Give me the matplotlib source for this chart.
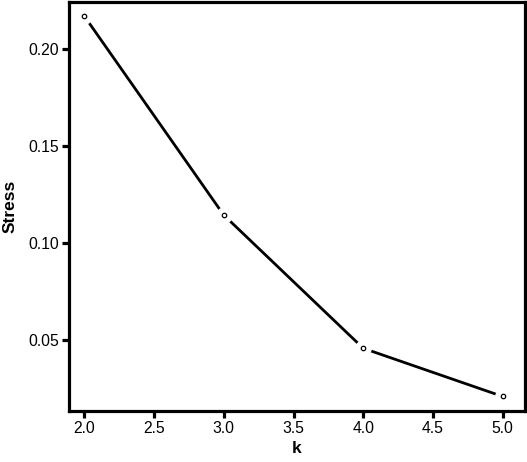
import matplotlib
matplotlib.use('Agg')
import matplotlib.pyplot as plt

plt.rcParams['font.family'] = ['Liberation Sans', 'DejaVu Sans']

# data
k = [2, 3, 4, 5]
stress = [0.2171, 0.1143, 0.0455, 0.0206]

fig = plt.figure(figsize=(5.27, 4.62), dpi=100)
ax = fig.add_axes([69 / 527, 51 / 462, 456 / 527, 409 / 462])

ax.plot(k, stress, color='black', linewidth=2, zorder=1)
# white halo so the line stops short of each point
ax.plot(k, stress, linestyle='none', marker='o', markersize=11,
        markerfacecolor='white', markeredgecolor='white', zorder=2)
ax.plot(k, stress, linestyle='none', marker='o', markersize=3.2,
        markerfacecolor='white', markeredgecolor='black',
        markeredgewidth=0.9, zorder=3)

ax.set_xlim(1.89, 5.16)
ax.set_ylim(0.0131, 0.2244)
ax.set_xticks([2.0, 2.5, 3.0, 3.5, 4.0, 4.5, 5.0])
ax.set_yticks([0.05, 0.10, 0.15, 0.20])
ax.set_xticklabels(['2.0', '2.5', '3.0', '3.5', '4.0', '4.5', '5.0'])
ax.set_yticklabels(['0.05', '0.10', '0.15', '0.20'])

for s in ax.spines.values():
    s.set_linewidth(2.3)
ax.tick_params(direction='out', length=5, width=2.3, labelsize=11.3, pad=2)

ax.set_xlabel('k', fontsize=12.5, fontweight='bold', labelpad=4)
ax.set_ylabel('Stress', fontsize=12.5, fontweight='bold', labelpad=8)

plt.savefig('out.png', dpi=100)
